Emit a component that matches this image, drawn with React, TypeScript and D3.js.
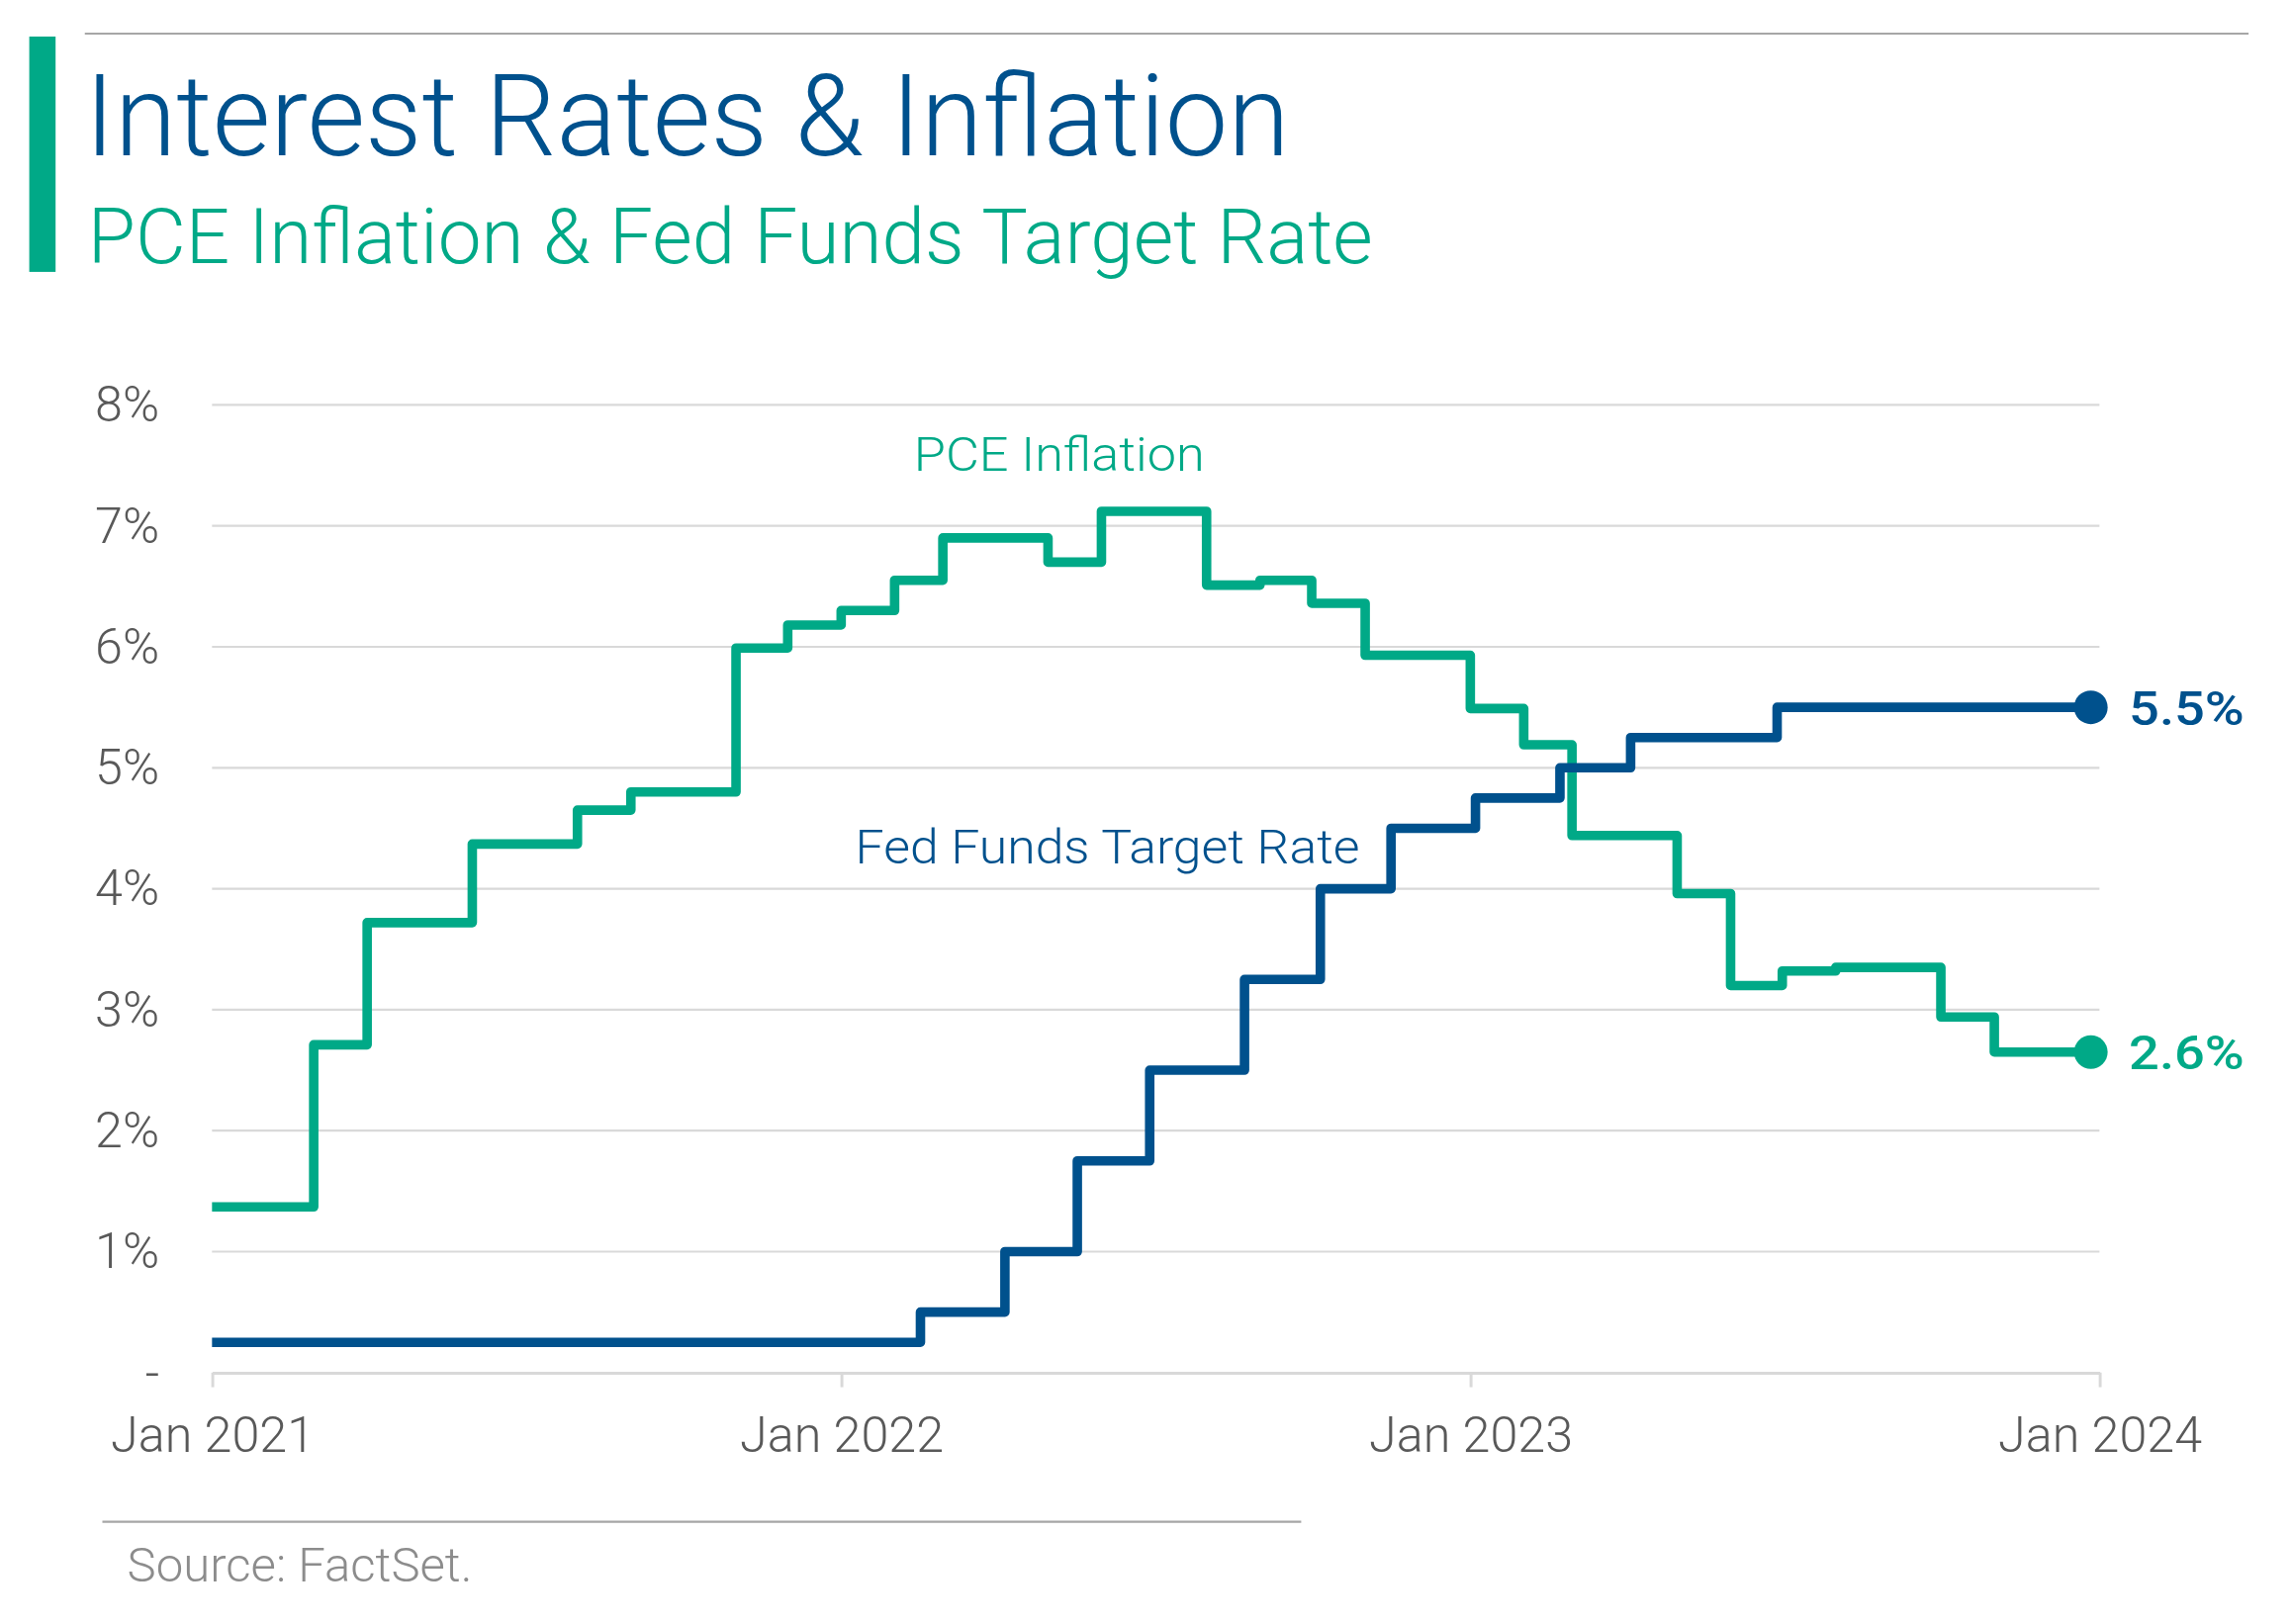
import { useEffect, useRef } from "react";
import * as d3 from "d3";

// PCE inflation, monthly YoY %, dated at the start of each month
const pceMonths = [
  "2021-01-01", "2021-02-01", "2021-03-01", "2021-04-01", "2021-05-01", "2021-06-01",
  "2021-07-01", "2021-08-01", "2021-09-01", "2021-10-01", "2021-11-01", "2021-12-01",
  "2022-01-01", "2022-02-01", "2022-03-01", "2022-04-01", "2022-05-01", "2022-06-01",
  "2022-07-01", "2022-08-01", "2022-09-01", "2022-10-01", "2022-11-01", "2022-12-01",
  "2023-01-01", "2023-02-01", "2023-03-01", "2023-04-01", "2023-05-01", "2023-06-01",
  "2023-07-01", "2023-08-01", "2023-09-01", "2023-10-01", "2023-11-01", "2023-12-01",
  "2023-12-27",
];
const pceValues = [
  1.37, 1.37, 2.71, 3.72, 3.72, 4.37,
  4.37, 4.65, 4.8, 4.8, 5.99, 6.18,
  6.3, 6.55, 6.9, 6.9, 6.7, 7.12,
  7.12, 6.51, 6.55, 6.36, 5.93, 5.93,
  5.49, 5.19, 4.44, 4.44, 3.96, 3.2,
  3.32, 3.35, 3.35, 2.94, 2.65, 2.65,
  2.65,
];

// Fed funds target rate (upper bound) %, date each level starts
const fedDates = [
  "2021-01-01", "2022-02-16", "2022-04-06", "2022-05-18", "2022-06-29", "2022-08-23",
  "2022-10-06", "2022-11-16", "2023-01-04", "2023-02-22", "2023-04-04", "2023-06-28",
  "2023-12-27",
];
const fedValues = [0.25, 0.5, 1.0, 1.75, 2.5, 3.25, 4.0, 4.5, 4.75, 5.0, 5.25, 5.5, 5.5];

const yTicks = [0, 1, 2, 3, 4, 5, 6, 7, 8];
const xTicks = ["2021-01-01", "2022-01-01", "2023-01-01", "2024-01-01"];

const title = "Interest Rates & Inflation";
const subtitle = "PCE Inflation & Fed Funds Target Rate";
const source = "Source: FactSet.";

const BLUE = "#00518d";
const GREEN = "#00a987";
const FONT = "Roboto, 'Noto Sans', sans-serif";

interface Pt { date: Date; value: number; }

export default function App() {
  const svgRef = useRef<SVGSVGElement>(null);

  useEffect(() => {
    if (!svgRef.current) return;
    const svg = d3.select(svgRef.current);
    svg.selectAll("*").remove();

    const parse = d3.timeParse("%Y-%m-%d");
    const pce: Pt[] = pceMonths.map((d, i) => ({ date: parse(d)!, value: pceValues[i] }));
    const fed: Pt[] = fedDates.map((d, i) => ({ date: parse(d)!, value: fedValues[i] }));
    const xTickDates = xTicks.map(d => parse(d)!);

    const x = d3.scaleTime()
      .domain([xTickDates[0], xTickDates[xTickDates.length - 1]])
      .range([145, 1436]);
    const y = d3.scaleLinear().domain([0, 8]).range([939, 277]);

    // header
    svg.append("line")
      .attr("x1", 58).attr("x2", 1538).attr("y1", 23).attr("y2", 23)
      .attr("stroke", "#a6a6a6").attr("stroke-width", 1.5);
    svg.append("rect")
      .attr("x", 20).attr("y", 25).attr("width", 18).attr("height", 161)
      .attr("fill", GREEN);
    svg.append("text")
      .attr("x", 58).attr("y", 106)
      .attr("font-size", 78).attr("font-weight", 300)
      .attr("fill", BLUE)
      .attr("textLength", 824).attr("lengthAdjust", "spacingAndGlyphs")
      .text(title);
    svg.append("text")
      .attr("x", 60).attr("y", 180)
      .attr("font-size", 53).attr("font-weight", 300)
      .attr("fill", GREEN)
      .attr("textLength", 879).attr("lengthAdjust", "spacingAndGlyphs")
      .text(subtitle);

    // gridlines
    svg.append("g")
      .selectAll("line")
      .data(yTicks.filter(t => t > 0))
      .enter()
      .append("line")
      .attr("x1", x.range()[0]).attr("x2", x.range()[1])
      .attr("y1", d => y(d)).attr("y2", d => y(d))
      .attr("stroke", "#d9d9d9").attr("stroke-width", 1.5);

    // y axis labels
    const yAxis = svg.append("g")
      .attr("transform", "translate(109,0)")
      .call(d3.axisLeft(y).tickValues(yTicks).tickSize(0).tickPadding(0)
        .tickFormat(d => (+d === 0 ? "-" : `${d}%`)));
    yAxis.select(".domain").remove();
    yAxis.selectAll("text")
      .attr("font-size", 34).attr("font-family", FONT).attr("font-weight", 300)
      .attr("fill", "#595959");

    // x axis
    const xAxis = svg.append("g")
      .attr("transform", `translate(0,${y(0)})`)
      .call(d3.axisBottom(x).tickValues(xTickDates).tickSizeInner(10).tickSizeOuter(0).tickPadding(20)
        .tickFormat(d => d3.timeFormat("Jan %Y")(d as Date)));
    xAxis.selectAll("path, line").attr("stroke", "#d9d9d9").attr("stroke-width", 2);
    xAxis.selectAll("text")
      .attr("font-size", 34).attr("font-family", FONT).attr("font-weight", 300)
      .attr("fill", "#595959");

    const line = d3.line<Pt>()
      .x(d => x(d.date))
      .y(d => y(d.value))
      .curve(d3.curveStepAfter);

    svg.append("path")
      .datum(pce)
      .attr("fill", "none")
      .attr("stroke", GREEN)
      .attr("stroke-width", 6.5)
      .attr("stroke-linejoin", "round")
      .attr("d", line);

    svg.append("path")
      .datum(fed)
      .attr("fill", "none")
      .attr("stroke", BLUE)
      .attr("stroke-width", 6.5)
      .attr("stroke-linejoin", "round")
      .attr("d", line);

    // end dots + value labels
    const ends = [
      { p: pce[pce.length - 1], color: GREEN, label: "2.6%" },
      { p: fed[fed.length - 1], color: BLUE, label: "5.5%" },
    ];
    ends.forEach(e => {
      svg.append("circle")
        .attr("cx", x(e.p.date)).attr("cy", y(e.p.value)).attr("r", 11.5)
        .attr("fill", e.color);
      svg.append("text")
        .attr("x", x(e.p.date) + 26).attr("y", y(e.p.value) + 12)
        .attr("font-size", 33).attr("font-weight", 500)
        .attr("fill", e.color)
        .attr("textLength", 79).attr("lengthAdjust", "spacingAndGlyphs")
        .text(e.label);
    });

    // series labels
    svg.append("text")
      .attr("x", 625).attr("y", 322)
      .attr("font-size", 33).attr("font-weight", 300)
      .attr("fill", GREEN)
      .attr("textLength", 199).attr("lengthAdjust", "spacingAndGlyphs")
      .text("PCE Inflation");
    svg.append("text")
      .attr("x", 585).attr("y", 591)
      .attr("font-size", 33).attr("font-weight", 300)
      .attr("fill", BLUE)
      .attr("textLength", 345).attr("lengthAdjust", "spacingAndGlyphs")
      .text("Fed Funds Target Rate");

    // footer
    svg.append("line")
      .attr("x1", 70).attr("x2", 890).attr("y1", 1041).attr("y2", 1041)
      .attr("stroke", "#a6a6a6").attr("stroke-width", 1.5);
    svg.append("text")
      .attr("x", 87).attr("y", 1082)
      .attr("font-size", 32).attr("font-weight", 300)
      .attr("fill", "#8c8c8c")
      .attr("textLength", 236).attr("lengthAdjust", "spacingAndGlyphs")
      .text(source);
  }, []);

  return (
    <svg
      ref={svgRef}
      width={2316}
      height={1642}
      viewBox="0 0 1567 1111"
      style={{ position: "absolute", left: 0, top: 0, background: "#fff", fontFamily: FONT }}
    />
  );
}
